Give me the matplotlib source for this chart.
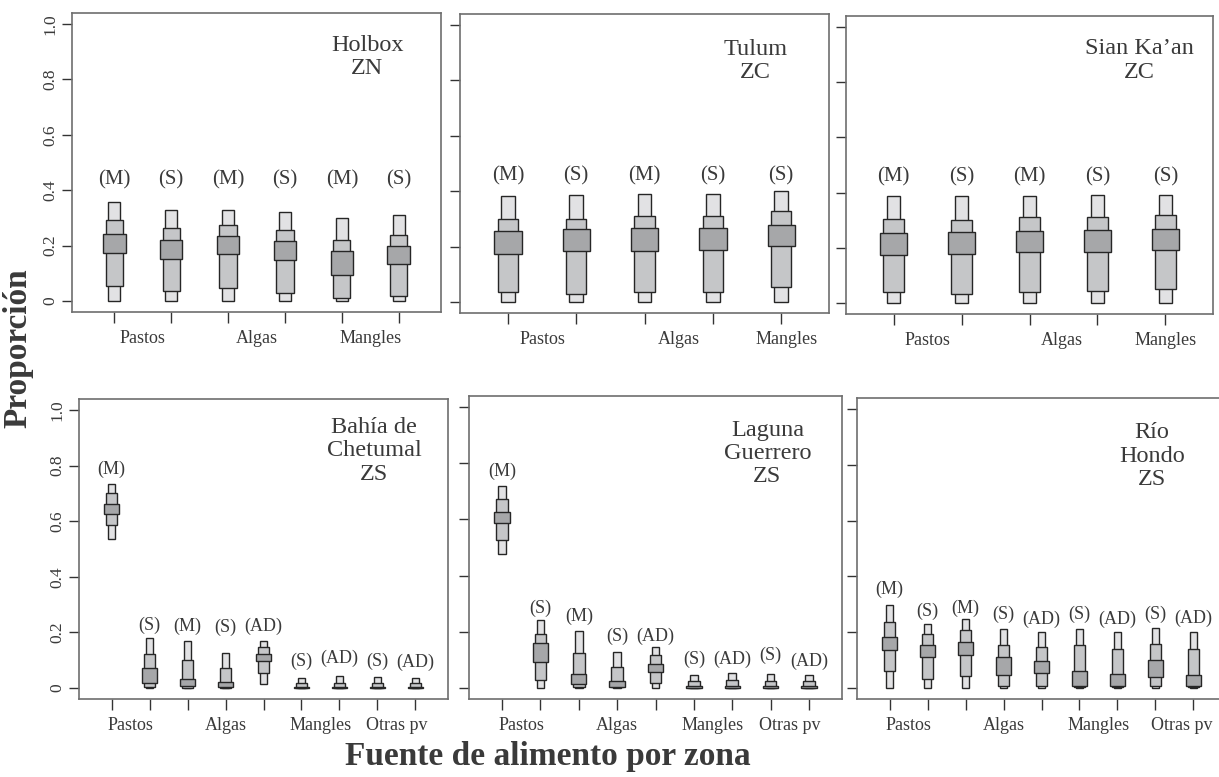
import numpy as np
import matplotlib
matplotlib.use('Agg')
from matplotlib import pyplot as plt

plt.rcParams['font.family'] = ['Liberation Serif', 'DejaVu Serif']

# credible intervals (lo, hi): 95%, 75%, 50%
holbox_groups = ['(M)', '(S)', '(M)', '(S)', '(M)', '(S)']
holbox_ci95 = [(0.0, 0.357), (0.0, 0.327), (0.0, 0.330), (0.0, 0.320), (0.0, 0.298), (0.0, 0.309)]
holbox_ci75 = [(0.053, 0.292), (0.036, 0.264), (0.047, 0.275), (0.029, 0.257), (0.011, 0.220), (0.019, 0.239)]
holbox_ci50 = [(0.174, 0.240), (0.151, 0.221), (0.168, 0.234), (0.147, 0.216), (0.095, 0.181), (0.134, 0.198)]

tulum_groups = ['(M)', '(S)', '(M)', '(S)', '(S)']
tulum_ci95 = [(0.0, 0.381), (0.0, 0.385), (0.0, 0.390), (0.0, 0.390), (0.0, 0.400)]
tulum_ci75 = [(0.035, 0.300), (0.030, 0.300), (0.036, 0.309), (0.036, 0.309), (0.055, 0.329)]
tulum_ci50 = [(0.174, 0.255), (0.183, 0.262), (0.183, 0.266), (0.189, 0.268), (0.202, 0.278)]

sian_groups = ['(M)', '(S)', '(M)', '(S)', '(S)']
sian_ci95 = [(0.0, 0.389), (0.0, 0.389), (0.0, 0.389), (0.0, 0.393), (0.0, 0.393)]
sian_ci75 = [(0.039, 0.306), (0.034, 0.302), (0.041, 0.310), (0.044, 0.313), (0.052, 0.319)]
sian_ci50 = [(0.175, 0.254), (0.179, 0.258), (0.183, 0.262), (0.186, 0.266), (0.193, 0.268)]

bahia_groups = ['(M)', '(S)', '(M)', '(S)', '(AD)', '(S)', '(AD)', '(S)', '(AD)']
bahia_ci95 = [(0.537, 0.735), (0.0, 0.178), (0.0, 0.170), (0.0, 0.125), (0.013, 0.170),
              (0.0, 0.035), (0.0, 0.043), (0.0, 0.040), (0.0, 0.035)]
bahia_ci75 = [(0.585, 0.702), (0.004, 0.122), (0.001, 0.100), (0.001, 0.071), (0.053, 0.148),
              (0.0, 0.016), (0.0, 0.019), (0.0, 0.018), (0.0, 0.017)]
bahia_ci50 = [(0.627, 0.661), (0.019, 0.071), (0.006, 0.032), (0.004, 0.020), (0.097, 0.123),
              (0.0, 0.004), (0.0, 0.005), (0.0, 0.004), (0.0, 0.004)]

laguna_groups = ['(M)', '(S)', '(M)', '(S)', '(AD)', '(S)', '(AD)', '(S)', '(AD)']
laguna_ci95 = [(0.476, 0.718), (0.0, 0.243), (0.0, 0.204), (0.0, 0.128), (0.0, 0.145),
               (0.0, 0.046), (0.0, 0.054), (0.0, 0.050), (0.0, 0.046)]
laguna_ci75 = [(0.527, 0.672), (0.029, 0.193), (0.002, 0.125), (0.001, 0.074), (0.017, 0.116),
               (0.0, 0.023), (0.0, 0.026), (0.0, 0.023), (0.0, 0.023)]
laguna_ci50 = [(0.586, 0.627), (0.092, 0.161), (0.012, 0.050), (0.004, 0.025), (0.056, 0.085),
               (0.0, 0.006), (0.0, 0.007), (0.0, 0.006), (0.0, 0.006)]

rio_groups = ['(M)', '(S)', '(M)', '(S)', '(AD)', '(S)', '(AD)', '(S)', '(AD)']
rio_ci95 = [(0.0, 0.299), (0.0, 0.230), (0.0, 0.248), (0.0, 0.211), (0.0, 0.199),
            (0.0, 0.212), (0.0, 0.199), (0.0, 0.215), (0.0, 0.199)]
rio_ci75 = [(0.059, 0.237), (0.032, 0.192), (0.041, 0.209), (0.008, 0.155), (0.008, 0.147),
            (0.002, 0.155), (0.002, 0.138), (0.008, 0.158), (0.002, 0.138)]
rio_ci50 = [(0.137, 0.183), (0.110, 0.155), (0.119, 0.165), (0.047, 0.112), (0.054, 0.097),
            (0.008, 0.059), (0.007, 0.049), (0.038, 0.100), (0.008, 0.047)]

top_sources = ['Pastos', 'Algas', 'Mangles']
bottom_sources = ['Pastos', 'Algas', 'Mangles', 'Otras pv']

C95, C75, C50 = '#e2e2e4', '#c5c6c8', '#a6a7a9'
EDGE = '#262626'
TXT = '#3a3a3a'
W, H = 1219, 777


def px_rect(left, right, top, bottom):
    return [left / W, (H - bottom) / H, (right - left) / W, (bottom - top) / H]


panels = [
    # title, groups, ci95, ci75, ci50, rect, title_y, label_y, source pos, glabel size
    ('Holbox\nZN', holbox_groups, holbox_ci95, holbox_ci75, holbox_ci50,
     px_rect(72, 441, 13, 312), 0.852, [0.436] * 6, [1.5, 3.5, 5.5], 15),
    ('Tulum\nZC', tulum_groups, tulum_ci95, tulum_ci75, tulum_ci50,
     px_rect(460, 829, 14, 313), 0.843, [0.457] * 5, [1.5, 3.5, 5.08], 15),
    ('Sian Ka\u2019an\nZC', sian_groups, sian_ci95, sian_ci75, sian_ci50,
     px_rect(846, 1213, 16, 314), 0.85, [0.456] * 5, [1.5, 3.47, 5.0], 15),
    ('Bah\u00eda de\nChetumal\nZS', bahia_groups, bahia_ci95, bahia_ci75, bahia_ci50,
     px_rect(79, 448, 399, 699), 0.827,
     [0.787, 0.226, 0.221, 0.218, 0.221, 0.094, 0.106, 0.094, 0.091], [1.5, 4, 6.5, 8.5], 13),
    ('Laguna\nGuerrero\nZS', laguna_groups, laguna_ci95, laguna_ci75, laguna_ci50,
     px_rect(469, 842, 396, 699), 0.81,
     [0.771, 0.282, 0.255, 0.184, 0.184, 0.101, 0.101, 0.116, 0.094], [1.5, 4, 6.5, 8.5], 13),
    ('R\u00edo\nHondo\nZS', rio_groups, rio_ci95, rio_ci75, rio_ci50,
     px_rect(857, 1226, 398, 699), 0.807,
     [0.354, 0.276, 0.284, 0.264, 0.245, 0.263, 0.247, 0.264, 0.251], [1.5, 4, 6.5, 8.7], 13),
]

fig = plt.figure(figsize=(W / 100, H / 100), dpi=100)

for i, (title, groups, ci95, ci75, ci50, rect, ty, ly, spos, gsize) in enumerate(panels):
    ax = fig.add_axes(rect)
    n = len(groups)
    x = np.arange(1, n + 1)
    for ci, w, col, z in [(ci95, 0.2, C95, 2), (ci75, 0.3, C75, 3), (ci50, 0.4, C50, 4)]:
        lo = np.array([c[0] for c in ci])
        hi = np.array([c[1] for c in ci])
        ax.bar(x, hi - lo, bottom=lo, width=w, color=col, edgecolor=EDGE,
               linewidth=1.0, zorder=z)
    for xi, yi, g in zip(x, ly, groups):
        ax.text(xi, yi, g, ha='center', va='center', fontsize=gsize, color=TXT)
    ax.text(0.8, ty, title, transform=ax.transAxes, ha='center', va='center',
            fontsize=17.5, color=TXT, linespacing=1.15, multialignment='center')

    ax.set_xlim(0.5 - 0.04 * n, n + 0.5 + 0.04 * n)
    ax.set_ylim(-0.04, 1.04)
    ax.xaxis.remove_overlapping_locs = False
    ax.set_xticks(x)
    ax.set_xticklabels([])
    srcs = top_sources if n < 9 else bottom_sources
    ax.set_xticks(spos, srcs, minor=True)
    ax.tick_params(axis='x', which='major', length=8, width=1.0, color='#333333')
    ax.tick_params(axis='x', which='minor', length=0, pad=13, labelsize=13, labelcolor=TXT)
    ax.set_yticks([0, 0.2, 0.4, 0.6, 0.8, 1.0])
    if i in (0, 3):
        ax.set_yticklabels(['0', '0.2', '0.4', '0.6', '0.8', '1.0'])
        ax.tick_params(axis='y', labelrotation=90, labelsize=12.5, labelcolor=TXT, pad=3)
        for lab in ax.get_yticklabels():
            lab.set_va('center')
    else:
        ax.set_yticklabels([])
    ax.tick_params(axis='y', length=7, width=1.0, color='#333333')
    for s in ax.spines.values():
        s.set_color('#6e6e6e')
        s.set_linewidth(1.2)

fig.text(18 / W, 1 - 348 / H, 'Proporci\u00f3n', rotation=90, ha='center', va='center',
         fontsize=24, fontweight='bold', color=TXT)
fig.text(548 / W, 1 - 756 / H, 'Fuente de alimento por zona', ha='center', va='center',
         fontsize=24, fontweight='bold', color=TXT)

fig.savefig('out.png', dpi=100)
